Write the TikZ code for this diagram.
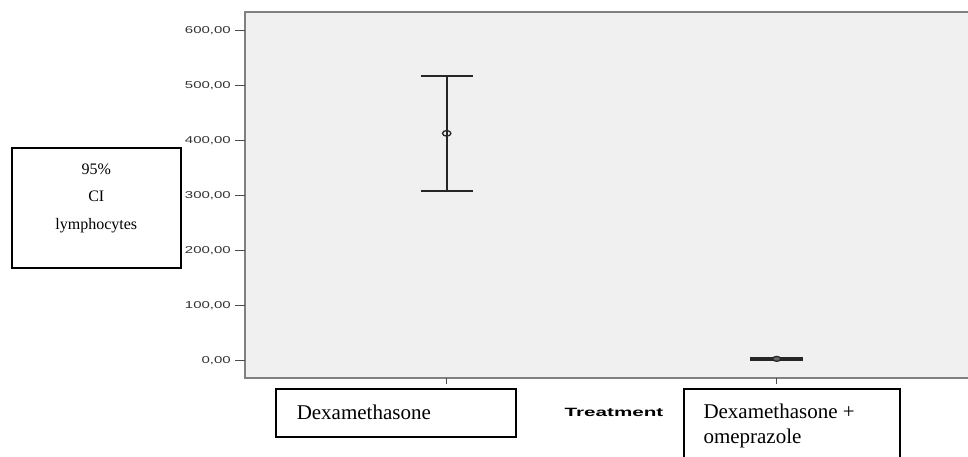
\documentclass[tikz,border=0pt]{standalone}
\usepackage{fontspec}
\setmainfont{Liberation Serif}
\newfontfamily\axisfont{Liberation Sans}
\usetikzlibrary{positioning}

\begin{document}
\begin{tikzpicture}[x=1pt,y=-1pt,
    box/.style={draw,line width=1.5pt},
    axisline/.style={draw=black!50,line width=1.3pt},
    bar/.style={draw=black!85,line width=2pt},
    ticklbl/.style={anchor=east,inner sep=0pt,text=black!80,
      font=\axisfont\fontsize{10}{10}\selectfont}
  ]
  \useasboundingbox (0,0) rectangle (968,456);
  \clip (0,0) rectangle (968,456);
  % plot area
  \fill[black!6] (245,12) rectangle (980,378);
  \draw[axisline] (980,12) -- (245,12) -- (245,378) -- (980,378);
  \foreach \v in {0,100,...,600} {
    \coordinate (y\v) at (245,{360.5-0.55*\v});
    \draw[black!70,line width=1pt] ([xshift=-10pt]y\v) -- (y\v);
    \node[ticklbl] at ([xshift=-14pt]y\v) {\scalebox{1.5}[1]{\v,00}};
  }
  % error bars
  \coordinate (dexhi) at (446.7,{360.5-0.55*518});
  \coordinate (dexlo) at (446.7,{360.5-0.55*309});
  \coordinate (dexmean) at (446.7,{360.5-0.55*413});
  \draw[bar] (dexlo) -- (dexhi);
  \draw[bar] ([xshift=-26pt]dexhi) -- ([xshift=26pt]dexhi);
  \draw[bar] ([xshift=-26pt]dexlo) -- ([xshift=26pt]dexlo);
  \draw[black!85,line width=1.3pt] (dexmean) ellipse (4.2pt and 2.8pt);
  \coordinate (omehi) at (776.7,{360.5-0.55*4.5});
  \coordinate (omelo) at (776.7,{360.5-0.55*1.5});
  \coordinate (omemean) at (776.7,{360.5-0.55*3});
  \draw[bar] (omelo) -- (omehi);
  \draw[bar] ([xshift=-26.5pt]omehi) -- ([xshift=26.5pt]omehi);
  \draw[bar] ([xshift=-26.5pt]omelo) -- ([xshift=26.5pt]omelo);
  \draw[black!85,fill=black!60,line width=1.2pt] (omemean) ellipse (4pt and 2.5pt);
  % x ticks
  \draw[black!70,line width=1pt] (446.7,378) -- (446.7,384);
  \draw[black!70,line width=1pt] (776.7,378) -- (776.7,384);
  % labels
  \node[box,anchor=north west,minimum width=169pt,minimum height=120pt] (ci) at (11,147) {};
  \node[anchor=north,align=center,inner sep=0pt,font=\fontsize{16}{27.5}\selectfont]
    (citext) at ([yshift=-16.5pt]ci.north) {95\%\\CI\\lymphocytes};
  \node[box,anchor=north west,minimum height=48pt,text width=198pt,inner xsep=21pt,
    align=left,font=\fontsize{21}{25}\selectfont] (dexa) at (275,388) {Dexamethasone};
  \node[right=48pt of dexa,inner sep=0pt,font=\axisfont\bfseries\fontsize{12}{12}\selectfont]
    (trt) {\scalebox{1.72}[1]{Treatment}};
  \node[box,anchor=north west,minimum width=216pt,minimum height=90pt] (combo) at (683.3,388) {};
  \node[anchor=north west,align=left,inner sep=0pt,font=\fontsize{21}{25}\selectfont]
    (combotext) at ([xshift=20pt,yshift=-15.5pt]combo.north west) {Dexamethasone +\\omeprazole};
\end{tikzpicture}
\end{document}
